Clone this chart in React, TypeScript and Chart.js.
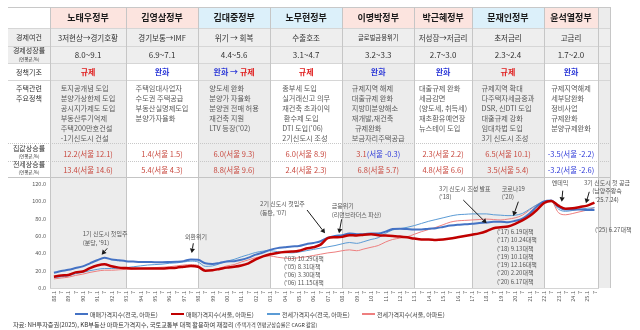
import React, { useEffect, useRef } from 'react';
import { Chart, registerables } from 'chart.js';
Chart.register(...registerables);

const FONT = "'Noto Sans CJK KR', 'Noto Sans', sans-serif";

// ---------------- data ----------------
const dates = [1988,1988.5,1989,1989.5,1990,1990.5,1991,1991.5,1992,1992.5,1993,1993.5,1994,1994.5,1995,1995.5,1996,1996.5,1997,1997.5,1998,1998.5,1999,1999.5,2000,2000.5,2001,2001.5,2002,2002.5,2003,2003.5,2004,2004.5,2005,2005.5,2006,2006.5,2007,2007.5,2008,2008.5,2009,2009.5,2010,2010.5,2011,2011.5,2012,2012.5,2013,2013.5,2014,2014.5,2015,2015.5,2016,2016.5,2017,2017.5,2018,2018.5,2019,2019.5,2020,2020.5,2021,2021.5,2022,2022.5,2023,2023.5,2024,2024.5,2025,2025.5];
const tickLabels = ['88.1','7','89.1','7','90.1','7','91.1','7','92.1','7','93.1','7','94.1','7','95.1','7','96.1','7','97.1','7','98.1','7','99.1','7','00.1','7','01.1','7','02.1','7','03.1','7','04.1','7','05.1','7','06.1','7','07.1','7','08.1','7','09.1','7','10.1','7','11.1','7','12.1','7','13.1','7','14.1','7','15.1','7','16.1','7','17.1','7','18.1','7','19.1','7','20.1','7','21.1','7','22.1','7','23.1','7','24.1','7','25.1','7'];

const tradeNational = [17.5,19.5,21,23,25,28.5,32,35,33,32,31,30.5,30,30,29.8,29.8,30,30.3,31,33,32.5,28.5,27.8,29,30.5,31,32.5,35,38.5,41,44,46,47,48,48.5,50.5,52,54,58,60,61,63,62,62,63,63,65,68,68.5,68,67.5,67.5,68.5,69,70.5,72,73,73.5,74,75,75.5,76.5,76.5,76,77.5,80,86,94,100,101,94,90.5,90.5,90.5,90,90];
const tradeSeoul = [13,14.5,15,18,19,23,26,27.5,25,23.5,23,22.5,22.5,22.5,22.5,22.5,23,23.5,24.5,25.5,24.5,20,20.5,22,23.5,24.5,26,28.5,33,36.5,39,40.5,41.5,42,43,45.5,47,50,57.5,58.5,59,61,60.5,61.5,62,61,60.5,60,59.5,58.5,57,56,56,55.5,56,57,58.5,60,61.5,63,65.5,69,70,71,74,78,83,90,98,100.5,95,91.5,92,93.5,95,98.5];
const jeonseNational = [12,13,14,16.5,18,20,21.5,22.5,22.5,23,23.5,24.5,25.5,26.5,27,27.5,28.5,29,30,31,30,25,25.5,28,31,33,36,38.5,41,42.5,43,42,41,40.5,41.5,43,44.5,46,47.5,49,51,52.5,51.5,53.5,56,58,63,67,68.5,70,72,74.5,77,79,81,83,84.5,85,85.5,85.5,85.5,84.5,84,83.5,84,86,91,96,100,100.5,91,88.5,89.5,91,92,92.5];
const jeonseSeoul = [10.5,11.5,12.5,14.5,16,18,19.5,20.5,20.5,21,21.5,22,22.5,23,23.5,24,24.5,25.5,26.5,27,26,20,21,23,25.5,27,30,32.5,35,36.5,37,35.5,34.5,34,35,36,37.5,39,40.5,41.5,43,44,43,45,47,49,53,56,57.5,59,62,65,67.5,70,73,76,77.5,78,78.5,79,79.5,79,78.5,79.5,81,84,90,96,99.5,100,87,84.5,86,88,90,93];

const seriesNames = ['매매가격지수(전국, 아파트)', '매매가격지수(서울, 아파트)', '전세가격지수(전국, 아파트)', '전세가격지수(서울, 아파트)'];

const governments = ['노태우정부', '김영삼정부', '김대중정부', '노무현정부', '이명박정부', '박근혜정부', '문재인정부', '윤석열정부'];
const govStartYears = [1988, 1993, 1998, 2003, 2008, 2013, 2017, 2022];
const economy = ['3저현상→경기호황', '경기보통→IMF', '위기 → 회복', '수출호조', '글로벌금융위기', '저성장→저금리', '초저금리', '고금리'];
const growth = ['8.0~9.1', '6.9~7.1', '4.4~5.6', '3.1~4.7', '3.2~3.3', '2.7~3.0', '2.3~2.4', '1.7~2.0'];
const stance = ['규제', '완화', '완화 → 규제', '규제', '완화', '완화', '규제', '완화'];
const policies = [
  ['토지공개념 도입', '분양가상한제 도입', '공시지가제도 도입', '부동산투기억제', '주택200만호건설', '-1기신도시 건설'],
  ['주택임대사업자', '수도권 주택공급', '부동산실명제도입', '분양가자율화'],
  ['양도세 완화', '분양가 자율화', '분양권 전매 허용', '재건축 지원', "LTV 등장('02)"],
  ['종부세 도입', '실거래신고 의무', '재건축 초과이익', '\u00a0환수제 도입', "DTI 도입('06)", '2기신도시 조성'],
  ['규제지역 해제', '대출규제 완화', '지방미분양해소', '재개발,재건축', '\u00a0\u00a0규제완화', '보금자리주택공급'],
  ['대출규제 완화', '세금감면', '(양도세, 취득세)', '재초환유예연장', '뉴스테이 도입'],
  ['규제지역 확대', '다주택자세금중과', 'DSR, 신DTI 도입', '대출규제 강화', '임대차법 도입', '3기 신도시 조성'],
  ['규제지역해제', '세부담완화', '정비사업', '규제완화', '분양규제완화'],
];
const priceNationalRate = [12.2, 1.4, 6.0, 6.0, 3.1, 2.3, 6.5, -3.5];
const priceSeoulRate = [12.1, 1.5, 9.3, 8.9, -0.3, 2.2, 10.1, -2.2];
const jeonseNationalRate = [13.4, 5.4, 8.8, 2.4, 6.8, 4.8, 3.5, -3.2];
const jeonseSeoulRate = [14.6, 4.3, 9.6, 2.3, 5.7, 6.6, 5.4, -2.6];

// annotations: text anchor (year, value), arrow from/to (year, value)
const annotations = [
  { lines: ['1기 신도시 첫입주', "(분당, '91)"], at: [1990.0, 62.3], align: 'left', from: [1991.7, 45.8], to: [1991.31, 38.5] },
  { lines: ['외환위기'], at: [1997.09, 59.2], align: 'left', from: [1997.67, 51.6], to: [1997.56, 40.4] },
  { lines: ['2기 신도시 첫입주', "(동탄, '07)"], at: [2002.3, 96.9], align: 'left', from: [2005.56, 90], to: [2006.81, 63.1] },
  { lines: ['금융위기', '(리먼브라더스 파산)'], at: [2007.27, 94.6], align: 'left', from: [2007.96, 79.3], to: [2007.78, 63.1] },
  { lines: ['3기 신도시 조성 발표', "('18)"], at: [2014.72, 115], align: 'left', from: [2016.4, 101.5], to: [2018.02, 74.6] },
  { lines: ['코로나19', "('20)"], at: [2019.06, 115], align: 'left', from: [2020.22, 99.6], to: [2019.87, 83.1] },
  { lines: ['엔데믹'], at: [2022.53, 121.5], align: 'left', from: [2023.3, 112.3], to: [2023.23, 99.6] },
  { lines: ['3기 신도시 첫 공급', '(남양주왕숙', "'25.7.24)"], at: [2026.37, 121.5], align: 'center', from: [2025.14, 111], to: [2024.91, 97.7] },
  { lines: ["('25) 6.27대책"], at: [2025.54, 67.7], align: 'left' },
  { lines: ["('03) 10.29대책", "('05) 8.31대책", "('06) 3.30대책", "('06) 11.15대책"], at: [2003.96, 34.3], align: 'left' },
  { lines: ["('17) 6.19대책", "('17) 10.24대책", "('18) 9.13대책", "('19) 10.1대책", "('19) 12.16대책", "('20) 2.20대책", "('20) 6.17대책"], at: [2018.74, 65], align: 'left' },
];

// ---------------- layout ----------------
const W = 640, H = 330;
const PLOT_LEFT = 50, PLOT_RIGHT = 598, PLOT_TOP = 184, PLOT_BOTTOM = 288;
const X_MIN = 1987.727, X_MAX = 2025.746;
const TABLE_LEFT = 8, TABLE_RIGHT = 610, TABLE_TOP = 7;
const R_HEAD = 28, R_ECON = 46, R_GROW = 63, R_STANCE = 80, R_POLICY = 143, R_PRICE = 161, R_JEONSE = 177;
const GRAY = '#ececec';
const PINK = '#fce4df', SKY = '#dcf0fa';
const headerColors = [PINK, PINK, SKY, SKY, PINK, PINK, SKY, PINK];
const colors = ['#4472c4', '#c00000', '#5b9bd5', '#ee7f7f'];
const widths = [2, 2.5, 1, 1];
const RED = '#c8483e', BLUE = '#2e3ad8';

const xOf = (yr: number) => PLOT_LEFT + ((yr - X_MIN) / (X_MAX - X_MIN)) * (PLOT_RIGHT - PLOT_LEFT);
const cols = govStartYears.map((y, i) => {
  const l = i === 0 ? PLOT_LEFT : xOf(y);
  const r = i === govStartYears.length - 1 ? PLOT_RIGHT : xOf(govStartYears[i + 1]);
  return { l, r, w: r - l };
});

function drawArrow(ctx: CanvasRenderingContext2D, x1: number, y1: number, x2: number, y2: number) {
  const a = Math.atan2(y2 - y1, x2 - x1);
  const hl = 4.5, hw = 2.6;
  ctx.beginPath();
  ctx.moveTo(x1, y1);
  ctx.lineTo(x2 - Math.cos(a) * hl, y2 - Math.sin(a) * hl);
  ctx.stroke();
  ctx.beginPath();
  ctx.moveTo(x2, y2);
  ctx.lineTo(x2 - Math.cos(a) * hl - Math.sin(a) * hw, y2 - Math.sin(a) * hl + Math.cos(a) * hw);
  ctx.lineTo(x2 - Math.cos(a) * hl + Math.sin(a) * hw, y2 - Math.sin(a) * hl - Math.cos(a) * hw);
  ctx.closePath();
  ctx.fill();
}

const tablePlugin = {
  id: 'tableBg',
  beforeDraw(chart: any) {
    const { ctx, chartArea, scales } = chart;
    const x = scales.x;
    const edges = govStartYears.map((y, i) => (i === 0 ? chartArea.left : x.getPixelForValue(y)));
    edges.push(chartArea.right);
    ctx.save();
    ctx.fillStyle = '#fff';
    ctx.fillRect(0, 0, W, H);
    for (let i = 0; i < governments.length; i++) {
      const l = edges[i], r = edges[i + 1];
      if (i % 2 === 0) {
        ctx.fillStyle = GRAY;
        ctx.fillRect(l, R_HEAD, r - l, chartArea.bottom - R_HEAD);
      }
      ctx.fillStyle = headerColors[i];
      ctx.fillRect(l, TABLE_TOP, r - l, R_HEAD - TABLE_TOP);
    }
    ctx.fillStyle = GRAY;
    ctx.fillRect(chartArea.right, TABLE_TOP, TABLE_RIGHT - chartArea.right, chartArea.bottom - TABLE_TOP);
    ctx.fillStyle = '#eeeeee';
    ctx.fillRect(TABLE_LEFT, R_HEAD, TABLE_RIGHT - TABLE_LEFT, R_GROW - R_HEAD);
    // horizontal lines
    ctx.lineWidth = 1;
    const hl = (yy: number, color: string, dash: number[]) => {
      ctx.strokeStyle = color;
      ctx.setLineDash(dash);
      ctx.beginPath();
      ctx.moveTo(TABLE_LEFT, yy + 0.5);
      ctx.lineTo(TABLE_RIGHT, yy + 0.5);
      ctx.stroke();
    };
    hl(TABLE_TOP, '#c8c8c8', []);
    hl(R_HEAD, '#d6d6d6', []);
    hl(R_ECON, '#d6d6d6', []);
    hl(R_GROW, '#d6d6d6', []);
    hl(R_STANCE, '#d6d6d6', []);
    hl(R_POLICY, '#c8c8c8', [1, 1]);
    hl(R_PRICE, '#c8c8c8', [1, 1]);
    hl(R_JEONSE, '#c4c4c4', []);
    ctx.setLineDash([]);
    // vertical lines
    ctx.strokeStyle = '#c6c6c6';
    [...edges, TABLE_RIGHT].forEach((e) => {
      ctx.beginPath();
      ctx.moveTo(Math.round(e) + 0.5, TABLE_TOP);
      ctx.lineTo(Math.round(e) + 0.5, chartArea.bottom);
      ctx.stroke();
    });
    ctx.restore();
  },
  afterDraw(chart: any) {
    const { ctx, scales } = chart;
    const x = scales.x, y = scales.y;
    ctx.save();
    ctx.font = `6px ${FONT}`;
    ctx.textBaseline = 'middle';
    ctx.fillStyle = '#555';
    ctx.strokeStyle = '#1a1a1a';
    annotations.forEach((a) => {
      const px = x.getPixelForValue(a.at[0]);
      const py = y.getPixelForValue(a.at[1]);
      ctx.textAlign = a.align === 'center' ? 'center' : 'left';
      ctx.fillStyle = '#555';
      a.lines.forEach((t, j) => ctx.fillText(t, px, py + j * 8.3));
      if (a.from && a.to) {
        ctx.fillStyle = '#1a1a1a';
        ctx.lineWidth = 1;
        drawArrow(ctx, x.getPixelForValue(a.from[0]), y.getPixelForValue(a.from[1]), x.getPixelForValue(a.to[0]), y.getPixelForValue(a.to[1]));
      }
    });
    ctx.restore();
  },
};

function Box(props: { left: number; top: number; width: number; height: number; style?: any; children?: any }) {
  return (
    <div
      style={{
        position: 'absolute', left: props.left, top: props.top, width: props.width, height: props.height,
        display: 'flex', alignItems: 'center', justifyContent: 'center', whiteSpace: 'nowrap',
        fontFamily: FONT, color: '#333', ...props.style,
      }}
    >
      {props.children}
    </div>
  );
}

const fmt = (v: number) => v.toFixed(1);
function RateText({ nat, seoul }: { nat: number; seoul: number }) {
  return (
    <span>
      <span style={{ color: nat < 0 ? BLUE : RED }}>{fmt(nat)}</span>
      <span style={{ color: seoul < 0 ? BLUE : RED }}>(서울 {fmt(seoul)})</span>
    </span>
  );
}
function StanceText({ s }: { s: string }) {
  return (
    <span>
      {s.split(/(규제|완화|→)/).filter((p) => p !== '').map((p, i) => (
        <span key={i} style={{ color: p === '규제' ? '#e02020' : '#2e3ad8' }}>{p}</span>
      ))}
    </span>
  );
}

function Label({ lines }: { lines: [string, number, number][] }) {
  return (
    <>
      {lines.map(([t, yy, fs], i) => (
        <Box key={t + i} left={TABLE_LEFT} top={yy - 5} width={PLOT_LEFT - TABLE_LEFT} height={10} style={{ fontSize: fs, color: '#333', lineHeight: '10px' }}>
          {t}
        </Box>
      ))}
    </>
  );
}

export default function App() {
  const ref = useRef<HTMLCanvasElement>(null);
  useEffect(() => {
    const chart = new Chart(ref.current as HTMLCanvasElement, {
      type: 'line',
      data: {
        datasets: seriesNames.map((name, k) => {
          const vals = [tradeNational, tradeSeoul, jeonseNational, jeonseSeoul][k];
          return {
            label: name,
            data: dates.map((d, i) => ({ x: d, y: vals[i] })),
            borderColor: colors[k],
            backgroundColor: colors[k],
            borderWidth: widths[k],
            pointRadius: 0,
            cubicInterpolationMode: 'monotone',
            order: [1, 0, 2, 3][k],
          } as any;
        }),
      },
      options: {
        responsive: false,
        animation: false,
        layout: { padding: { top: PLOT_TOP, right: W - PLOT_RIGHT, bottom: H - PLOT_BOTTOM - 20, left: 0 } },
        plugins: { legend: { display: false }, tooltip: { enabled: false } },
        scales: {
          x: {
            type: 'linear',
            min: X_MIN,
            max: X_MAX,
            afterBuildTicks: (s: any) => { s.ticks = dates.map((v) => ({ value: v })); },
            afterFit: (s: any) => { s.height = 20; },
            ticks: {
              autoSkip: false,
              minRotation: 90,
              maxRotation: 90,
              padding: 3,
              color: '#595959',
              font: { size: 5.5, family: FONT },
              callback: (v: any) => tickLabels[dates.indexOf(Number(v))] ?? '',
            },
            grid: { display: false, drawTicks: false },
            border: { display: true, color: '#d4d4d4' },
          },
          y: {
            min: 0,
            max: 120,
            afterFit: (s: any) => { s.width = PLOT_LEFT; },
            ticks: {
              stepSize: 20,
              padding: 4,
              color: '#595959',
              font: { size: 5.5, family: FONT },
              callback: (v: any) => Number(v).toFixed(1),
            },
            grid: { display: false, drawTicks: false },
            border: { display: false },
          },
        },
      } as any,
      plugins: [tablePlugin],
    });
    return () => chart.destroy();
  }, []);

  return (
    <div style={{ position: 'absolute', left: 0, top: 0, width: W, height: H, overflow: 'hidden', background: '#fff', fontFamily: FONT }}>
      <canvas ref={ref} width={W} height={H} style={{ position: 'absolute', left: 0, top: 0 }} />
      {/* label column */}
      <Label lines={[
        ['경제여건', 37, 7], ['경제성장률', 50, 7], ['(연평균,%)', 58.5, 4.5], ['정책기조', 71.5, 7],
        ['주택관련', 88, 7], ['주요정책', 98, 7],
        ['집값상승률', 148, 7], ['(연평균,%)', 156, 4.5], ['전세상승률', 164, 7], ['(연평균,%)', 172, 4.5],
      ]} />
      {cols.map((c, i) => (
        <React.Fragment key={i}>
          <Box left={c.l} top={TABLE_TOP} width={c.w} height={R_HEAD - TABLE_TOP} style={{ fontSize: 9, fontWeight: 'bold', color: '#1a1a1a' }}>{governments[i]}</Box>
          <Box left={c.l} top={R_HEAD} width={c.w} height={R_ECON - R_HEAD} style={{ fontSize: i === 4 ? 6.3 : 7.5, color: '#333' }}>{economy[i]}</Box>
          <Box left={c.l} top={R_ECON} width={c.w} height={R_GROW - R_ECON} style={{ fontSize: 8, color: '#333' }}>{growth[i]}</Box>
          <Box left={c.l} top={R_GROW} width={c.w} height={R_STANCE - R_GROW} style={{ fontSize: 8, fontWeight: 600 }}><StanceText s={stance[i]} /></Box>
          <div style={{ position: 'absolute', left: c.l, top: 83, width: c.w, display: 'flex', justifyContent: 'center' }}>
            <div style={{ fontFamily: FONT, fontSize: 7.2, lineHeight: '10px', color: '#5a5a5a', whiteSpace: 'nowrap', textAlign: 'left' }}>
              {policies[i].map((t, j) => <div key={j}>{t}</div>)}
            </div>
          </div>
          <Box left={c.l} top={R_POLICY + 2} width={c.w} height={16} style={{ fontSize: 7.5 }}><RateText nat={priceNationalRate[i]} seoul={priceSeoulRate[i]} /></Box>
          <Box left={c.l} top={R_PRICE} width={c.w} height={16} style={{ fontSize: 7.5 }}><RateText nat={jeonseNationalRate[i]} seoul={jeonseSeoulRate[i]} /></Box>
        </React.Fragment>
      ))}
      {/* legend */}
      {seriesNames.map((n, k) => (
        <div key={n} style={{ position: 'absolute', left: [75, 171, 267, 362][k], top: 309, height: 10, display: 'flex', alignItems: 'center', fontFamily: FONT, fontSize: 6, color: '#404040', whiteSpace: 'nowrap' }}>
          <div style={{ width: 13, height: 2, background: colors[k], marginRight: 2 }} />
          {n}
        </div>
      ))}
      <div style={{ position: 'absolute', left: 13, top: 320, height: 10, lineHeight: '10px', fontFamily: FONT, fontSize: 6.2, color: '#333', whiteSpace: 'nowrap' }}>
        자료: NH투자증권(2025), KB부동산 아파트가격지수, 국토교통부 대책 활용하여 재정리 <span style={{ fontSize: 5.2 }}>(주택가격 연평균상승률은 CAGR 활용)</span>
      </div>
    </div>
  );
}
